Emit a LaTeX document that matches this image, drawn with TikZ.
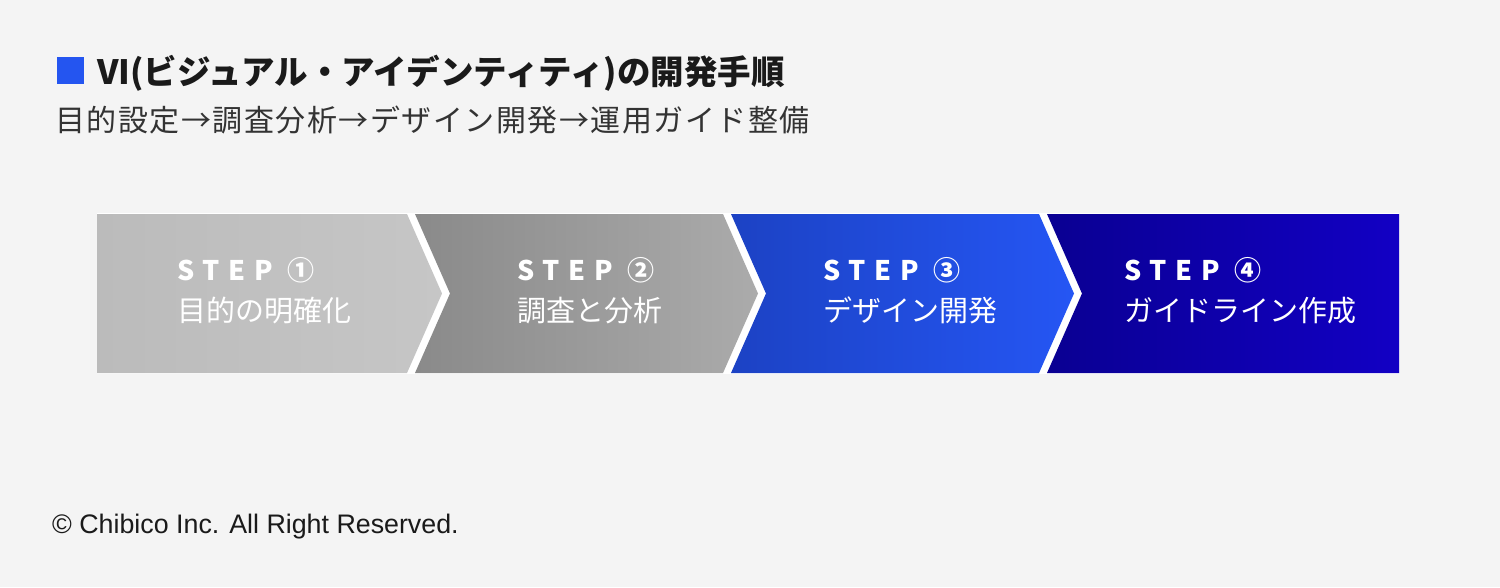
\documentclass[tikz,border=0pt]{standalone}
\usepackage{fontspec}
\setmainfont{Liberation Sans}
\newfontfamily\cjk{Noto Sans CJK JP}
\newfontfamily\cjkstep[LetterSpace=32]{Noto Sans CJK JP}
\newfontfamily\cjksub[LetterSpace=5]{Noto Sans CJK JP}
\definecolor{bg}{HTML}{F4F4F4}
\definecolor{sqblue}{HTML}{2455F0}
\definecolor{aL}{HTML}{BBBBBB}\definecolor{aR}{HTML}{C6C6C6}
\definecolor{bL}{HTML}{8A8A8A}\definecolor{bR}{HTML}{ABABAB}
\definecolor{cL}{HTML}{1C42C4}\definecolor{cR}{HTML}{2556F4}
\definecolor{dL}{HTML}{0A0092}\definecolor{dR}{HTML}{1200C4}
\definecolor{ink}{HTML}{1A1A1A}
\definecolor{subink}{HTML}{333333}
\begin{document}
\begin{tikzpicture}[x=1pt,y=-1pt,
  steplabel/.style={anchor=base west,inner sep=0pt,text=white,font=\cjkstep\bfseries\fontsize{27}{27}\selectfont},
  sublabel/.style={anchor=base west,inner sep=0pt,text=white,font=\cjk\fontsize{29}{29}\selectfont}]
\fill[bg] (0,0) rectangle (1500,587);
\useasboundingbox (0,0) rectangle (1500,587);
% title
\fill[sqblue] (57,57) rectangle (84,84);
\node[anchor=base west,inner sep=0pt,text=ink,font=\cjk\bfseries\fontsize{33.5}{33.5}\selectfont] (title) at (97,84) {VI(ビジュアル・アイデンティティ)の開発手順};
\node[anchor=base west,inner sep=0pt,text=subink,font=\cjksub\fontsize{30}{30}\selectfont] (subtitle) at (55,131) {目的設定→調査分析→デザイン開発→運用ガイド整備};
% band
\fill[white] (97,213) rectangle (1399,374);
\shade[left color=aL,right color=aR] (97,214) -- (407,214) -- (442,293.5) -- (407,373) -- (97,373) -- cycle;
\shade[left color=bL,right color=bR] (415,214) -- (723,214) -- (758,293.5) -- (723,373) -- (415,373) -- (450,293.5) -- cycle;
\shade[left color=cL,right color=cR] (731,214) -- (1039,214) -- (1074,293.5) -- (1039,373) -- (731,373) -- (766,293.5) -- cycle;
\shade[left color=dL,right color=dR] (1047,214) -- (1399,214) -- (1399,373) -- (1047,373) -- (1082,293.5) -- cycle;
% labels
\node[steplabel] (s1) at (177,280) {STEP ①};
\node[sublabel] (t1) at (177,321) {目的の明確化};
\node[steplabel] (s2) at (517,280) {STEP ②};
\node[sublabel] (t2) at (517,321) {調査と分析};
\node[steplabel] (s3) at (823,280) {STEP ③};
\node[sublabel] (t3) at (823,321) {デザイン開発};
\node[steplabel] (s4) at (1124,280) {STEP ④};
\node[sublabel] (t4) at (1124,321) {ガイドライン作成};
% footer
\node[anchor=base west,inner sep=0pt,text=ink,font=\fontsize{26.8}{26.8}\selectfont] (footer) at (52,533) {© Chibico Inc. All Right Reserved.};
\end{tikzpicture}
\end{document}
